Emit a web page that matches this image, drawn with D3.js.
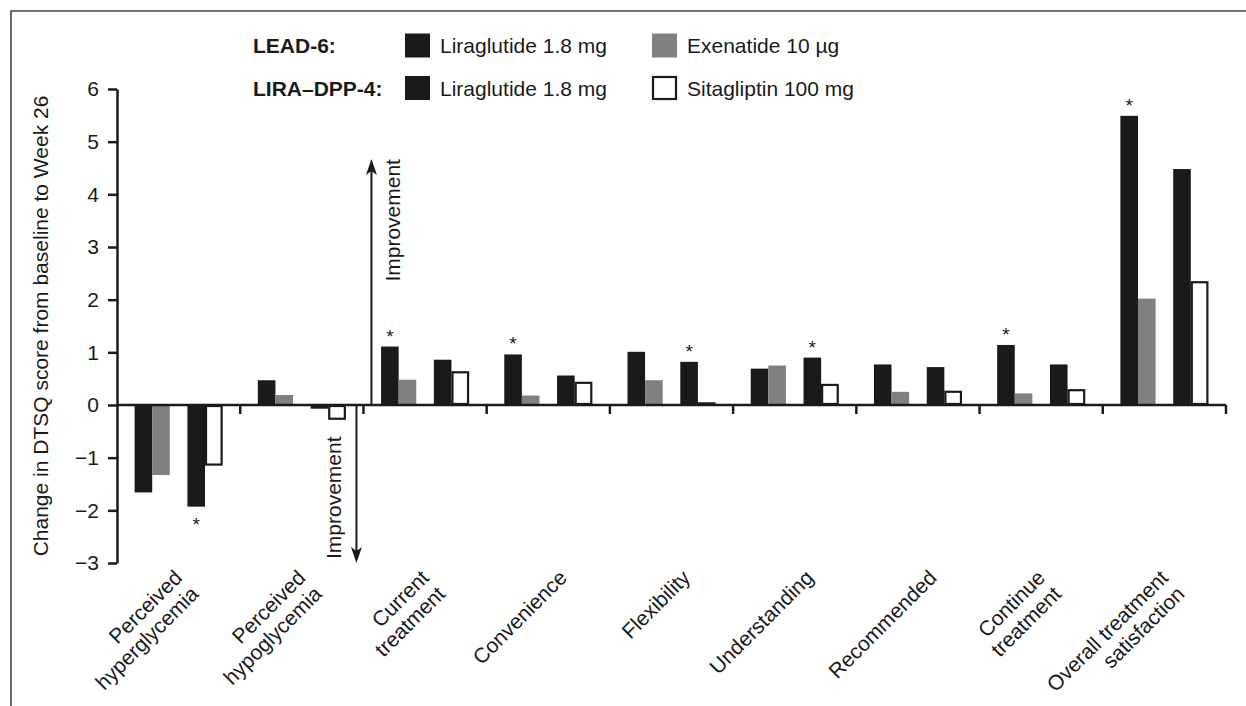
<!DOCTYPE html>
<html>
<head>
<meta charset="utf-8">
<script src="https://cdn.jsdelivr.net/npm/d3@7"></script>
<style>
  body { margin: 0; background: #fff; }
  text { font-family: "Liberation Sans", Arial, sans-serif; fill: #1a1a1a; }
</style>
</head>
<body>
<script>
// categories (x axis), each label split into lines
var categories = ["Perceived hyperglycemia", "Perceived hypoglycemia", "Current treatment",
  "Convenience", "Flexibility", "Understanding", "Recommended", "Continue treatment",
  "Overall treatment satisfaction"];
var categoryLines = [["Perceived", "hyperglycemia"], ["Perceived", "hypoglycemia"],
  ["Current", "treatment"], ["Convenience"], ["Flexibility"], ["Understanding"],
  ["Recommended"], ["Continue", "treatment"], ["Overall treatment", "satisfaction"]];

// series values (change in DTSQ score)
var leadLira = [-1.66, 0.47, 1.11, 0.96, 1.01, 0.69, 0.77, 1.14, 5.49];
var exenatide = [-1.33, 0.19, 0.48, 0.18, 0.47, 0.75, 0.25, 0.22, 2.02];
var dppLira = [-1.93, -0.07, 0.86, 0.56, 0.82, 0.90, 0.72, 0.77, 4.48];
var sitagliptin = [-1.15, -0.28, 0.64, 0.44, 0.05, 0.40, 0.27, 0.30, 2.35];

var series = [
  { name: "Liraglutide 1.8 mg", values: leadLira, fill: "#1a1a1a", slot: 1 },
  { name: "Exenatide 10 µg", values: exenatide, fill: "#808080", slot: 2 },
  { name: "Liraglutide 1.8 mg", values: dppLira, fill: "#1a1a1a", slot: 4 },
  { name: "Sitagliptin 100 mg", values: sitagliptin, fill: "#fff", slot: 5 }
];

// significance marks: [category index, series index]
var sigMarks = [[0, 2], [2, 0], [3, 0], [4, 2], [5, 2], [7, 0], [8, 0]];

var yTicks = [-3, -2, -1, 0, 1, 2, 3, 4, 5, 6];

var legendRows = [
  { title: "LEAD-6:", items: [0, 1] },
  { title: "LIRA\u2013DPP-4:", items: [2, 3] }
];

var width = 1246, height = 706;
var ink = "#1a1a1a";

var svg = d3.select("body").append("svg")
  .attr("width", width)
  .attr("height", height);

// frame (top and left edges)
svg.append("path")
  .attr("d", "M11,706V11H1246")
  .attr("fill", "none")
  .attr("stroke", "#444")
  .attr("stroke-width", 1.6);

var x0 = d3.scaleBand().domain(categories).range([117, 1226]).padding(0);
var x1 = d3.scaleBand().domain(d3.range(7)).range([0, x0.bandwidth()]);
var y = d3.scaleLinear().domain([-3, 6]).range([563, 89]);

// y axis
var yAxis = svg.append("g")
  .attr("transform", "translate(117,0)")
  .call(d3.axisLeft(y).tickValues(yTicks).tickSize(9).tickSizeOuter(0).tickPadding(9));
yAxis.select(".domain").attr("stroke", ink).attr("stroke-width", 2.5);
yAxis.selectAll(".tick line").attr("stroke", ink).attr("stroke-width", 2.5);
yAxis.selectAll(".tick text")
  .attr("font-size", 21)
  .style("font-family", '"Liberation Sans", Arial, sans-serif')
  .attr("fill", ink);

svg.append("text")
  .attr("transform", "translate(48," + y(1.5) + ") rotate(-90)")
  .attr("text-anchor", "middle")
  .attr("font-size", 21)
  .text("Change in DTSQ score from baseline to Week 26");

// bars
series.forEach(function (s) {
  var open = s.fill === "#fff";
  svg.append("g").selectAll("rect")
    .data(s.values)
    .enter()
    .append("rect")
    .attr("x", function (d, i) { return x0(categories[i]) + x1(s.slot) + (open ? 1 : 0); })
    .attr("y", function (d) { return y(Math.max(0, d)) + (open ? 1 : 0); })
    .attr("width", x1.bandwidth() - (open ? 2 : 0))
    .attr("height", function (d) {
      return Math.max(1, Math.abs(y(d) - y(0)) - (open ? 2 : 0));
    })
    .attr("fill", s.fill)
    .attr("stroke", open ? ink : "none")
    .attr("stroke-width", 2.2);
});

// x axis at zero with category boundary ticks
svg.append("line")
  .attr("x1", x0.range()[0]).attr("x2", x0.range()[1])
  .attr("y1", y(0)).attr("y2", y(0))
  .attr("stroke", ink).attr("stroke-width", 2.5);
svg.append("g").selectAll("line")
  .data(categories)
  .enter()
  .append("line")
  .attr("x1", function (d) { return x0(d) + x0.bandwidth(); })
  .attr("x2", function (d) { return x0(d) + x0.bandwidth(); })
  .attr("y1", y(0))
  .attr("y2", y(0) + 9)
  .attr("stroke", ink)
  .attr("stroke-width", 2.5);

// category labels, rotated
var labels = svg.append("g").selectAll("text")
  .data(categoryLines)
  .enter()
  .append("text")
  .attr("text-anchor", "end")
  .attr("font-size", 21)
  .attr("transform", function (d, i) {
    var cx = x0(categories[i]) + x0.bandwidth() / 2 + 20 - 15 * (d.length - 1);
    return "translate(" + cx + ",579) rotate(-45)";
  });
labels.selectAll("tspan")
  .data(function (d) { return d; })
  .enter()
  .append("tspan")
  .attr("x", 0)
  .attr("dy", function (d, i) { return i === 0 ? 0 : 23; })
  .text(function (d) { return d; });

// asterisks
svg.append("g").selectAll("text")
  .data(sigMarks)
  .enter()
  .append("text")
  .attr("text-anchor", "middle")
  .attr("font-size", 19)
  .attr("x", function (d) {
    return x0(categories[d[0]]) + x1(series[d[1]].slot) + x1.bandwidth() / 2;
  })
  .attr("y", function (d) {
    var v = series[d[1]].values[d[0]];
    return v >= 0 ? y(v) - 4 : y(v) + 24;
  })
  .text("*");

// improvement arrows
var bx = x0(categories[2]);
function arrow(x, v0, v1) {
  var ya = y(v0), yb = y(v1), dir = yb < ya ? 1 : -1;
  svg.append("line")
    .attr("x1", x).attr("x2", x)
    .attr("y1", ya).attr("y2", yb + dir * 10)
    .attr("stroke", ink).attr("stroke-width", 2);
  svg.append("path")
    .attr("d", "M" + x + "," + yb + "L" + (x - 5.5) + "," + (yb + dir * 16) +
      "L" + x + "," + (yb + dir * 12) + "L" + (x + 5.5) + "," + (yb + dir * 16) + "Z")
    .attr("fill", ink);
}
arrow(bx + 8, 0, 4.67);
arrow(bx - 7, 0, -3);
svg.append("text")
  .attr("transform", "translate(" + (bx + 37) + "," + y(4.67) + ") rotate(-90)")
  .attr("text-anchor", "end")
  .attr("font-size", 21)
  .text("Improvement");
svg.append("text")
  .attr("transform", "translate(" + (bx - 22) + "," + (y(-3) - 4) + ") rotate(-90)")
  .attr("text-anchor", "start")
  .attr("font-size", 21)
  .text("Improvement");

// legend
var legend = svg.append("g");
legendRows.forEach(function (row, r) {
  var cy = 45.5 + r * 42.5;
  legend.append("text")
    .attr("x", 253).attr("y", cy + 7.5)
    .attr("font-size", 21).attr("font-weight", "bold")
    .text(row.title);
  row.items.forEach(function (si, c) {
    var s = series[si];
    var sx = 405 + c * 247;
    var open = s.fill === "#fff";
    legend.append("rect")
      .attr("x", sx + (open ? 1 : 0)).attr("y", cy - 12 + (open ? 1 : 0))
      .attr("width", open ? 23 : 25).attr("height", open ? 22 : 24)
      .attr("fill", s.fill)
      .attr("stroke", open ? ink : "none")
      .attr("stroke-width", 2.2);
    legend.append("text")
      .attr("x", sx + 35).attr("y", cy + 7.5)
      .attr("font-size", 21)
      .text(s.name);
  });
});
</script>
</body>
</html>
